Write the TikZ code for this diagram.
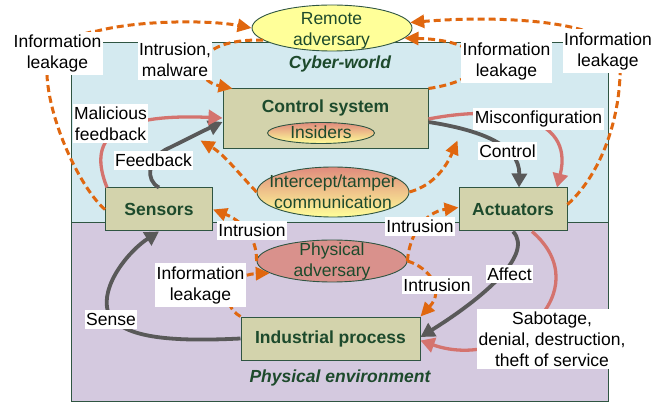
\documentclass[tikz,border=0pt]{standalone}
\usepackage{fontspec}
\setmainfont{Liberation Sans}
\usetikzlibrary{arrows.meta,shapes.geometric}

\definecolor{cyberbg}{HTML}{D4EAF0}
\definecolor{physbg}{HTML}{D4C9DF}
\definecolor{frame}{HTML}{2F5542}
\definecolor{boxfill}{HTML}{D3D3AC}
\definecolor{darkgreen}{HTML}{1D4A2C}
\definecolor{advyellow}{HTML}{FFFF99}
\definecolor{advred}{HTML}{D9918C}
\definecolor{gradtop}{HTML}{E08B7D}
\definecolor{attack}{HTML}{E0670F}
\definecolor{harm}{HTML}{D4736E}
\definecolor{flow}{HTML}{595959}

\tikzset{
  every node/.style={font=\fontsize{17.5}{21}\selectfont},
  region/.style={draw=frame, line width=0.9pt},
  component/.style={draw=frame, fill=boxfill, line width=1pt, inner sep=0pt,
    text=darkgreen, font=\fontsize{17.5}{21}\selectfont\bfseries},
  comptext/.style={text=darkgreen, font=\fontsize{17.5}{21}\selectfont\bfseries},
  actor/.style={ellipse, draw=frame, line width=0.9pt, inner sep=0pt},
  actortext/.style={text=darkgreen, align=center},
  tag/.style={fill=white, inner xsep=1.5pt, inner ysep=3pt, align=center, text=black},
  regionlabel/.style={text=darkgreen, font=\fontsize{17.5}{21}\selectfont\bfseries\itshape},
  threat/.style={draw=attack, line width=3pt, dash pattern=on 7pt off 4pt,
    -{Triangle[length=14pt,width=13pt]}},
  normalflow/.style={draw=flow, line width=3.8pt, -{Triangle[length=14pt,width=15pt]}},
  malicious/.style={draw=harm, line width=3.3pt, -{Triangle[length=14pt,width=15pt]}},
}

\begin{document}
\begin{tikzpicture}[x=1pt,y=-1pt]
\useasboundingbox (0,0) rectangle (669,403);

% the two worlds
\fill[cyberbg] (71,42) rectangle (608,222);
\fill[physbg] (71,222) rectangle (608,401.5);
\draw[region] (71,42) rectangle (608,401.5);
\draw[region] (71,222) -- (608,222);
\node[regionlabel] (cyberlbl) at (340,64) {Cyber-world};
\node[regionlabel] (physlbl) at (340,377.5) {Physical environment};

% system components
\node[component, minimum width=205pt, minimum height=60pt] (ctrl) at (325.5,119) {};
\node[comptext] (ctrltitle) at (325.5,108) {Control system};
\node[component, minimum width=107pt, minimum height=43pt] (sensors) at (159,209.5) {Sensors};
\node[component, minimum width=108pt, minimum height=43pt] (act) at (513,209.5) {Actuators};
\node[component, minimum width=179pt, minimum height=43pt] (ind) at (330.5,338.5) {Industrial process};

% adversaries
\node[actor, fill=advyellow, minimum width=160pt, minimum height=46pt] (remote) at (332,28) {};
\node[actortext] (remotetxt) at (331.5,31) {Remote\\adversary};
\node[actor, top color=gradtop, bottom color=advyellow, minimum width=107pt, minimum height=21pt] (ins) at (321,133) {};
\node[actortext] (instxt) at (321,132) {Insiders};
\node[actor, top color=gradtop, bottom color=advyellow, minimum width=152pt, minimum height=50pt] (icpt) at (333,192) {};
\node[actortext] (icpttxt) at (333,192) {Intercept/tamper\\communication};
\node[actor, fill=advred, minimum width=150pt, minimum height=42pt] (phys) at (332,261) {};
\node[actortext] (physadvtxt) at (332,261.5) {Physical\\adversary};

% attacks and leaks
\draw[threat] (sensors.west) .. controls (82,190) and (50,125) .. (47,76)
  .. controls (47,50) and (70,35) .. (97,31)
  .. controls (140,20) and (210,20) .. (remote.west);
\draw[threat] (remote.190) .. controls (190,38) and (190,80) .. ([xshift=10pt]ctrl.north west);
\draw[threat] (ctrl.north east) .. controls (500,78) and (490,40) .. (remote.-8);
\draw[threat] ([yshift=5pt]act.east) .. controls (605,170) and (622,110) .. (620,60)
  .. controls (618,20) and (500,15) .. (remote.4);
\draw[threat] (icpt.west) .. controls (240,175) and (225,155) .. ([xshift=-22pt,yshift=9pt]ctrl.south west);
\draw[threat] (icpt.east) .. controls (435,185) and (447,165) .. ([xshift=29pt,yshift=9pt]ctrl.south east);
\draw[threat] (phys.west) .. controls (257,235) and (240,220) .. (sensors.east);
\draw[threat] (phys.east) .. controls (409,235) and (425,212) .. ([yshift=2pt]act.west);
\draw[threat] (phys.east) .. controls (430,268) and (445,290) .. (ind.north east);
\draw[threat] (ind.north west) .. controls (220,305) and (225,275) .. (phys.191);

% control loop
\draw[normalflow] (sensors.north) .. controls (145,180) and (148,160) .. (165,150)
  .. controls (185,140) and (205,130) .. ([yshift=-3pt]ctrl.west);
\draw[normalflow] ([yshift=-3pt]ctrl.east) .. controls (480,130) and (520,145) .. ([xshift=6pt]act.north);
\draw[normalflow] (act.south) .. controls (535,255) and (480,300) .. ([yshift=1.5pt]ind.east);
\draw[normalflow] (ind.west) .. controls (170,342) and (120,338) .. (108,312)
  .. controls (100,285) and (130,250) .. (sensors.south);

% malicious influence
\draw[malicious] ([xshift=2pt]sensors.north west) .. controls (88,140) and (110,113) .. ([yshift=1pt]ctrl.west);
\draw[malicious] (ctrl.east) .. controls (500,105) and (575,115) .. ([xshift=44pt]act.north);
\draw[malicious] ([xshift=19pt]act.south) .. controls (600,290) and (510,372) .. ([yshift=-2pt]ind.east);

% connector labels
\node[tag] (l1) at (57.5,53.5) {Information\\leakage};
\node[tag] (l2) at (175,60) {Intrusion,\\malware};
\node[tag] (l3) at (506.5,61.5) {Information\\leakage};
\node[tag] (l4) at (608,51) {Information\\leakage};
\node[tag] (l5) at (110.5,123.5) {Malicious\\feedback};
\node[tag] (l6) at (153.5,160.5) {Feedback};
\node[tag] (l7) at (538.5,119) {Misconfiguration};
\node[tag] (l8) at (507.5,151) {Control};
\node[tag] (l9) at (252,230.5) {Intrusion};
\node[tag] (l10) at (420,226.5) {Intrusion};
\node[tag] (l11) at (200.5,285) {Information\\leakage};
\node[tag] (l12) at (437,285) {Intrusion};
\node[tag] (l13) at (509.5,274) {Affect};
\node[tag] (l14) at (111,319.5) {Sense};
\node[tag] (l15) at (552,339) {Sabotage,\\denial, destruction,\\theft of service};
\end{tikzpicture}
\end{document}
